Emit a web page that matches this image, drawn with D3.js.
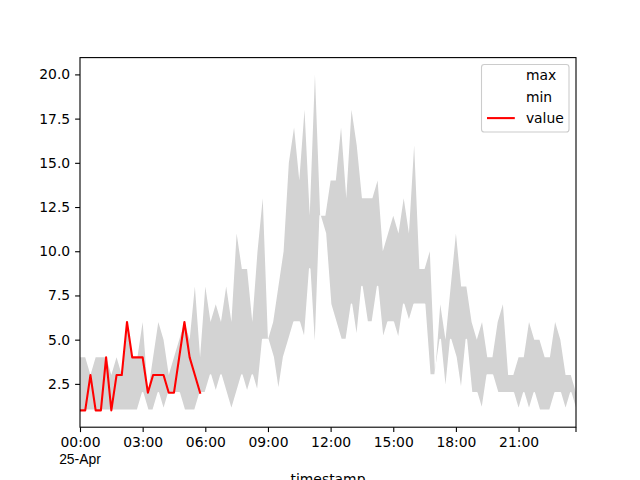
<!DOCTYPE html>
<html><head><meta charset="utf-8">
<script src="https://cdn.jsdelivr.net/npm/d3@7"></script>
<style>body{margin:0;background:#fff;} svg{display:block;font-family:"DejaVu Sans",sans-serif;}</style>
</head><body>
<svg id="c" width="640" height="480"></svg>
<script>
const startTime = new Date(2024, 3, 25, 0, 0);
const stepMinutes = 15;
const maxVals = [4,4,3,4,4,4,3,4,3,6,4,4,
  6,2,4,6,5,3,4,5,6,5,8,4,8,
  6,7,6,8,6,11,9,9,6,10,
  13,5,6,8,10,15,17,14,18,12,20,12,12,
  14,14,17,13,18,16,13,13,13,14,10,11,12,11,13,11,
  16,9,9,10,3,7,5,8,11,8,8,6,5,6,4,4,
  6,7,3,3,4,4,6,5,5,4,4,6,5,3,3,2];
const minVals = [1,1,1,1,1,1,1,1,1,1,1,1,
  2,1,1,2,1,2,2,2,1,1,1,2,2,
  3,2,3,2,1,2,3,2,3,2,
  5,5,4,2,4,5,6,6,5,9,4,12,11,
  7,6,5,5,7,5,8,6,6,8,5,6,6,5,7,6,
  7,7,7,3,3,5,2,5,4,2,5,2,2,1,3,3,
  2,2,2,2,1,2,1,2,1,1,1,2,2,1,2,1];
const valueVals = [1,1,3,1,1,4,1,3,3,6,4,4,4,2,3,3,3,2,2,4,6,4,3,2];
const yTicks = [2.5,5.0,7.5,10.0,12.5,15.0,17.5,20.0];
const legendLabels = ["max","min","value"];
const seriesColors = ["#ffffff","#ffffff","#ff0000"];

const times = maxVals.map((_, i) => d3.timeMinute.offset(startTime, i * stepMinutes));

const svg = d3.select("#c");
const L = 80, R = 576, T = 57.6, B = 427.2;
const x = d3.scaleTime().domain([times[0], times[times.length-1]]).range([L, R]);
const lo = d3.min(minVals.concat(valueVals)), hi = d3.max(maxVals.concat(valueVals));
const pad = (hi - lo) * 0.05;
const y = d3.scaleLinear().domain([lo - pad, hi + pad]).range([B, T]);

svg.append("defs").append("clipPath").attr("id","clip")
  .append("rect").attr("x",L).attr("y",T).attr("width",R-L).attr("height",B-T);
const plot = svg.append("g").attr("clip-path","url(#clip)");

const line = arr => d3.line().x((d,i)=>x(times[i])).y(d=>y(d))(arr);
const drawLine = k => plot.append("path").attr("d", line([maxVals, minVals, valueVals][k])).attr("fill","none")
    .attr("stroke", seriesColors[k]).attr("stroke-width", k === 1 ? 1.6 : 2.08)
    .attr("stroke-linejoin","round").attr("stroke-linecap","square");

drawLine(0);
plot.append("path").datum(times)
  .attr("d", d3.area().x(d=>x(d)).y0((d,i)=>y(minVals[i])).y1((d,i)=>y(maxVals[i])))
  .attr("fill","#d3d3d3");
drawLine(1);
drawLine(2);

// axes
const yAxis = svg.append("g").attr("transform",`translate(${L},0)`)
  .call(d3.axisLeft(y).tickValues(yTicks).tickFormat(d3.format(".1f")).tickSizeOuter(0).tickSize(4.9).tickPadding(4.9));
yAxis.select(".domain").remove();
yAxis.selectAll("text").attr("font-size","13.9px").attr("fill","#000").attr("font-family","DejaVu Sans");
yAxis.selectAll("line").attr("stroke","#000").attr("stroke-width",1.1);

const xTickVals = d3.timeHour.every(3).range(times[0], d3.timeMinute.offset(times[times.length-1],1));
const xAxis = svg.append("g").attr("transform",`translate(0,${B})`)
  .call(d3.axisBottom(x).tickValues(xTickVals).tickFormat(d3.timeFormat("%H:%M")).tickSizeOuter(0).tickSize(4.9).tickPadding(4.9));
xAxis.select(".domain").remove();
xAxis.selectAll("text").attr("font-size","13.9px").attr("fill","#000").attr("font-family","DejaVu Sans");
xAxis.selectAll("line").attr("stroke","#000").attr("stroke-width",1.1);
xAxis.append("line").attr("x1",x(times[times.length-1])).attr("x2",x(times[times.length-1]))
  .attr("y1",0).attr("y2",4.9).attr("stroke","#000").attr("stroke-width",1.1);
xAxis.append("text").attr("x",x(times[0])).attr("y",4.9+4.9+16.7).attr("dy","0.71em")
  .attr("text-anchor","middle").attr("font-size","13.9px").attr("fill","#000")
  .text(d3.timeFormat("%d-%b")(times[0]));

svg.append("text").attr("x",(L+R)/2).attr("y",484).attr("text-anchor","middle")
  .attr("font-size","13.9px").attr("fill","#000").text("timestamp");

svg.append("rect").attr("x",L).attr("y",T).attr("width",R-L).attr("height",B-T)
  .attr("fill","none").attr("stroke","#000").attr("stroke-width",1.1);

// legend
const lg = svg.append("g");
lg.append("rect").attr("x",481.5).attr("y",64.5).attr("width",87.5).attr("height",67.5)
  .attr("rx",2.8).attr("fill","#fff").attr("fill-opacity",0.8).attr("stroke","#cccccc").attr("stroke-width",1.1);
legendLabels.forEach((lab, k) => {
  const cy = 75.5 + k * 21.3;
  lg.append("line").attr("x1",487).attr("x2",514.8).attr("y1",cy).attr("y2",cy)
    .attr("stroke",seriesColors[k]).attr("stroke-width",2.08);
  lg.append("text").attr("x",525.9).attr("y",cy).attr("dy","0.35em")
    .attr("font-size","13.9px").attr("fill","#000").text(lab);
});
</script>
</body></html>
